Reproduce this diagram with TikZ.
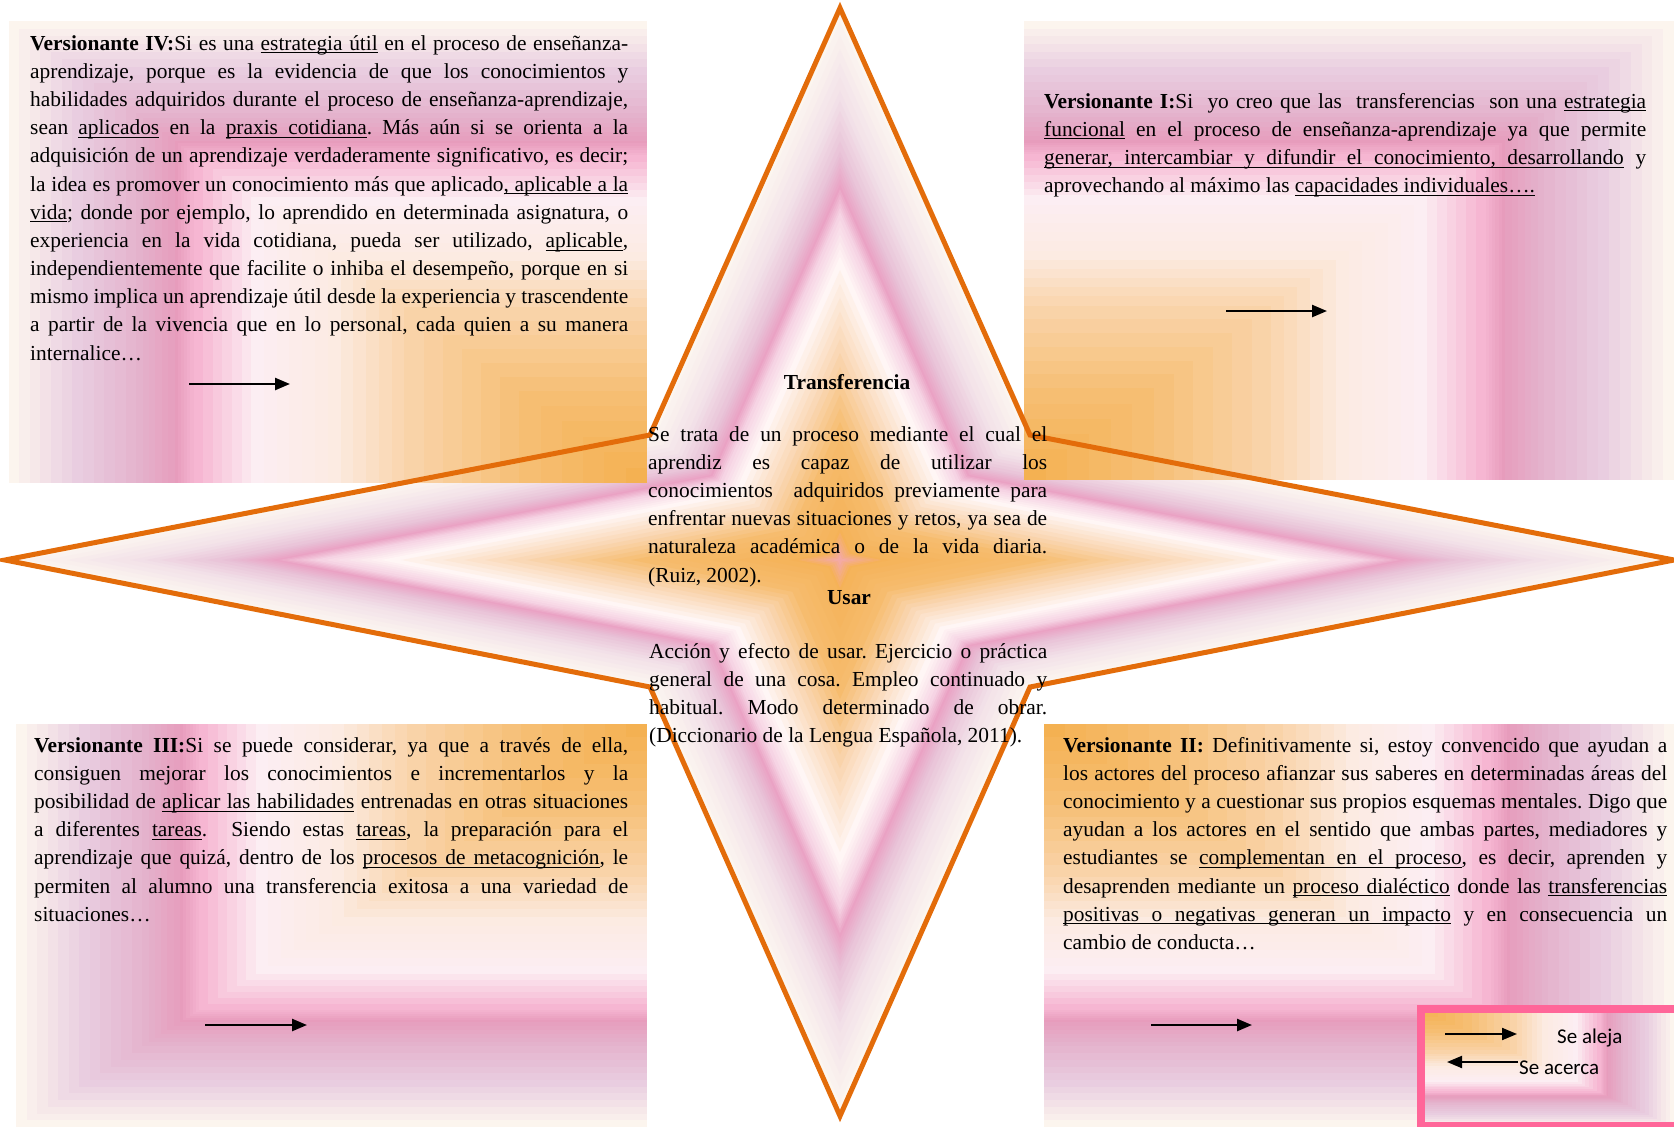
\documentclass[tikz,border=0pt]{standalone}
\usepackage{fontspec}
\setmainfont{Liberation Serif}
\newfontfamily\legendfont{Carlito}
\usetikzlibrary{calc,arrows.meta}
\hyphenpenalty=10000
\exhyphenpenalty=10000
\frenchspacing
\definecolor{starline}{HTML}{E36C0A}
\definecolor{legendpink}{HTML}{FF6699}
\definecolor{bx0}{HTML}{F4AF4C}
\definecolor{bx1}{HTML}{F6BE72}
\definecolor{bx2}{HTML}{F9D3A8}
\definecolor{bx3}{HTML}{FCEBE2}
\definecolor{bx4}{HTML}{FCEEF3}
\definecolor{bx5}{HTML}{F6B6D2}
\definecolor{bx6}{HTML}{E79CBC}
\definecolor{bx7}{HTML}{E4B2CC}
\definecolor{bx8}{HTML}{E9CDE0}
\definecolor{bx9}{HTML}{FCF5EE}
\definecolor{st0}{HTML}{F4A8B4}
\definecolor{st1}{HTML}{F5B257}
\definecolor{st2}{HTML}{F6BC6E}
\definecolor{st3}{HTML}{FAD8B6}
\definecolor{st4}{HTML}{FFF6F5}
\definecolor{st5}{HTML}{F6D4E4}
\definecolor{st6}{HTML}{EAA2C4}
\definecolor{st7}{HTML}{E8C0D6}
\definecolor{st8}{HTML}{F2E0E8}
\definecolor{st9}{HTML}{FCF6F0}
\newcommand{\starpath}{(0,-552) -- (190,-125) -- (834,0) -- (190,127) -- (0,556) -- (-190,127) -- (-835,0) -- (-190,-125) -- cycle}
\newcommand{\glowbox}[2]{%
  \foreach \ga/\gb/\ca/\cb in {1/.9/bx9/bx8,.9/.8/bx8/bx7,.8/.74/bx7/bx6,.74/.71/bx6/bx5,.71/.62/bx5/bx4,.62/.5/bx4/bx3,.5/.38/bx3/bx2,.38/.2/bx2/bx1,.2/0/bx1/bx0}{
    \foreach \k in {0,...,5}{
      \pgfmathsetmacro{\gt}{\ga-(\ga-\gb)*\k/6}
      \pgfmathsetmacro{\gp}{100*\k/6}
      \fill[fill={\cb!\gp!\ca}] (#1) rectangle ($(#1)!\gt!(#2)$);
    }
  }%
}
\newcommand{\subrword}[1]{\setbox0\hbox{#1}\rlap{\rule[-3.2pt]{\wd0}{1.1pt}}\box0\relax}
\newcommand{\usp}{\leaders\hrule height -2.1pt depth 3.2pt\hskip\fontdimen2\font plus\fontdimen3\font minus\fontdimen4\font\relax}
\def\subrwords#1 #2\relax{\subrword{#1}\ifx\relax#2\relax\else\usp\subrwords#2\relax\fi}
\newcommand{\subr}[1]{\subrwords#1 \relax}

\begin{document}
\begin{tikzpicture}[x=1pt,y=-1pt,
    versbox/.style={anchor=base west,inner sep=0pt,text width=#1,align=justify,font=\fontsize{21.4}{28.2}\selectfont},
    titulo/.style={anchor=base,inner sep=0pt,font=\fontsize{21.4}{28.2}\selectfont\bfseries},
    leyenda/.style={anchor=base west,inner sep=0pt,font=\legendfont\fontsize{21}{24}\selectfont},
    flecha/.style={-{Triangle[length=15pt,width=12pt]},line width=2.4pt}]

    \useasboundingbox (0,0) rectangle (1674,1127);
    \fill[white] (0,0) rectangle (1674,1127);

    \foreach \ga/\gb/\ca/\cb in {1/.85/st9/st8,.85/.74/st8/st7,.74/.68/st7/st6,.68/.63/st6/st5,.63/.55/st5/st4,.55/.4/st4/st3,.4/.25/st3/st2,.25/.06/st2/st1,.06/0/st1/st0}{
        \foreach \k in {0,...,5}{
            \pgfmathsetmacro{\gt}{\ga-(\ga-\gb)*\k/6}
            \pgfmathsetmacro{\gp}{100*\k/6}
            \fill[fill={\cb!\gp!\ca},shift={(840,560)},scale=\gt] \starpath;
        }
    }

    \coordinate (tlc) at (647,483);  \coordinate (tlf) at (8.5,21);
    \coordinate (trc) at (1024,480); \coordinate (trf) at (1674,21);
    \coordinate (blc) at (647,724);  \coordinate (blf) at (16,1127);
    \coordinate (brc) at (1044,724); \coordinate (brf) at (1674,1127);
    \glowbox{tlc}{tlf}
    \glowbox{trc}{trf}
    \glowbox{blc}{blf}
    \glowbox{brc}{brf}

    \draw[starline,line width=5pt,shift={(840,560)}] \starpath;

    \node[versbox=598pt] (v4) at (30,50) {\textbf{Versionante IV:}Si es una \subr{estrategia útil} en el proceso de enseñanza-\linebreak
        aprendizaje, porque es la evidencia de que los conocimientos y\linebreak
        habilidades adquiridos durante el proceso de enseñanza-aprendizaje,\linebreak
        sean \subr{aplicados} en la \subr{praxis cotidiana}. Más aún si se orienta a la\linebreak
        adquisición de un aprendizaje verdaderamente significativo, es decir;\linebreak
        la idea es promover un conocimiento más que aplicado\subr{, aplicable a la}\linebreak
        \subr{vida}; donde por ejemplo, lo aprendido en determinada asignatura, o\linebreak
        experiencia en la vida cotidiana, pueda ser utilizado, \subr{aplicable},\linebreak
        independientemente que facilite o inhiba el desempeño, porque en si\linebreak
        mismo implica un aprendizaje útil desde la experiencia y trascendente\linebreak
        a partir de la vivencia que en lo personal, cada quien a su manera\linebreak
        internalice…};

    \node[versbox=602pt] (v1) at (1044,108) {\textbf{Versionante I:}Si\ \ yo creo que las\ \ transferencias\ \ son una \subr{estrategia}\linebreak
        \subr{funcional} en el proceso de enseñanza-aprendizaje ya que permite\linebreak
        \subr{generar, intercambiar y difundir el conocimiento, desarrollando} y\linebreak
        aprovechando al máximo las \subr{capacidades individuales….}};

    \node[versbox=594pt] (v3) at (34,752) {\textbf{Versionante III:}Si se puede considerar, ya que a través de ella,\linebreak
        consiguen mejorar los conocimientos e incrementarlos y la\linebreak
        posibilidad de \subr{aplicar las habilidades} entrenadas en otras situaciones\linebreak
        a diferentes \subr{tareas}.\ \ Siendo estas \subr{tareas}, la preparación para el\linebreak
        aprendizaje que quizá, dentro de los \subr{procesos de metacognición}, le\linebreak
        permiten al alumno una transferencia exitosa a una variedad de\linebreak
        situaciones…};

    \node[versbox=604pt] (v2) at (1063,752) {\textbf{Versionante II:} Definitivamente si, estoy convencido que ayudan a\linebreak
        los actores del proceso afianzar sus saberes en determinadas áreas del\linebreak
        conocimiento y a cuestionar sus propios esquemas mentales. Digo que\linebreak
        ayudan a los actores en el sentido que ambas partes, mediadores y\linebreak
        estudiantes se \subr{complementan en el proceso}, es decir, aprenden y\linebreak
        desaprenden mediante un \subr{proceso dialéctico} donde las \subr{transferencias}\linebreak
        \subr{positivas o negativas generan un impacto} y en consecuencia un\linebreak
        cambio de conducta…};

    \node[titulo] (trans) at (847,389) {Transferencia};
    \node[versbox=399pt] (transdef) at (648,441) {Se trata de un proceso mediante el cual el\linebreak
        aprendiz es capaz de utilizar los\linebreak
        conocimientos\ \ adquiridos previamente para\linebreak
        enfrentar nuevas situaciones y retos, ya sea de\linebreak
        naturaleza académica o de la vida diaria.\linebreak
        (Ruiz, 2002).};
    \node[titulo] (usar) at (849,604) {Usar};
    \node[versbox=398pt] (usardef) at (649,658) {Acción y efecto de usar. Ejercicio o práctica\linebreak
        general de una cosa. Empleo continuado y\linebreak
        habitual. Modo determinado de obrar.\linebreak
        (Diccionario de la Lengua Española, 2011).};

    \coordinate (a4s) at (189,384);  \coordinate (a4e) at (290,384);
    \coordinate (a1s) at (1226,311); \coordinate (a1e) at (1327,311);
    \coordinate (a3s) at (205,1025); \coordinate (a3e) at (307,1025);
    \coordinate (a2s) at (1151,1025);\coordinate (a2e) at (1252,1025);
    \draw[flecha] (a4s) -- (a4e);
    \draw[flecha] (a1s) -- (a1e);
    \draw[flecha] (a3s) -- (a3e);
    \draw[flecha] (a2s) -- (a2e);

    \coordinate (lgc) at (1421,1009); \coordinate (lgf) at (1674,1127);
    \glowbox{lgc}{lgf}
    \draw[legendpink,line width=8pt] (1421,1009) rectangle (1678,1126);
    \node[leyenda] (aleja) at (1557,1043) {Se aleja};
    \node[leyenda] (acerca) at (1519,1074) {Se acerca};
    \coordinate (l1s) at (1445,1034); \coordinate (l1e) at (1517,1034);
    \coordinate (l2s) at (1518,1062); \coordinate (l2e) at (1447,1062);
    \draw[flecha,line width=2pt] (l1s) -- (l1e);
    \draw[flecha,line width=2pt] (l2s) -- (l2e);

\end{tikzpicture}
\end{document}
